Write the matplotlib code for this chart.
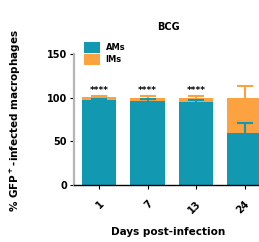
import matplotlib
matplotlib.use("Agg")
import matplotlib.pyplot as plt
import numpy as np

days = ["1", "7", "13", "24"]
am_mean = [97.5, 96.5, 95.5, 59.5]
im_mean = [3.0, 3.5, 4.5, 40.5]
am_sd = [1.5, 1.5, 2.0, 12.0]
im_sd = [1.2, 1.5, 2.0, 13.0]
sig = ["****", "****", "****", ""]

teal = "#1398b2"
orange = "#fca240"

plt.rcParams['font.family'] = ['DejaVu Sans']
plt.rcParams['font.weight'] = 'bold'

fig = plt.figure(figsize=(2.59, 2.42), dpi=100)
ax = fig.add_axes([74/259, 57/242, 189/259, 131/242])

x = np.arange(len(days))
w = 0.71
am_top = np.array(am_mean)
tot = am_top + np.array(im_mean)
ax.bar(x, am_mean, width=w, color=teal, label="AMs", zorder=2)
ax.bar(x, im_mean, width=w, bottom=am_mean, color=orange, label="IMs", zorder=2)
for ys, sd, col, zo in [(am_top, am_sd, teal, 3), (tot, im_sd, orange, 1.5)]:
    eb = ax.errorbar(x, ys, yerr=[np.zeros(len(x)), sd], fmt='none', ecolor=col,
                     elinewidth=1.5, capsize=5.5, capthick=1.5, zorder=zo)
    caps = eb[1]
    if len(caps) >= 2:
        caps[0].set_visible(False)

for xi, s in zip(x, sig):
    if s:
        ax.text(xi, 108, s, ha='center', va='center', fontsize=6.5, fontweight='bold')

ax.set_xlim(-0.52, 3.38)
ax.set_ylim(0, 150)
ax.set_yticks([0, 50, 100, 150])
ax.set_yticklabels(["0", "50", "100", "150"], fontsize=7, fontweight='bold')
ax.set_xticks(x)
ax.set_xticklabels(days, rotation=45, ha='right', rotation_mode='anchor',
                   fontsize=7, fontweight='bold')
ax.tick_params(axis='x', length=3, width=0.8, pad=7)
ax.tick_params(axis='y', length=3, width=0.8, pad=2)

for s in ['top', 'right']:
    ax.spines[s].set_visible(False)
ax.spines['left'].set_color('#b5b5b5')
ax.spines['left'].set_linewidth(1.6)
ax.spines['bottom'].set_linewidth(1.0)

ax.set_title("BCG", fontsize=7, fontweight='bold', pad=17)
ax.set_xlabel("Days post-infection", fontsize=7.5, fontweight='bold')
ax.xaxis.set_label_coords(0.5, -0.32)
ax.set_ylabel("% GFP$^+$-infected macrophages", fontsize=7.5, fontweight='bold')
ax.yaxis.set_label_coords(-0.27, 0.49)

ax.legend(loc='upper left', bbox_to_anchor=(0.053, 1.09), frameon=False,
          fontsize=6, handlelength=1.9, handleheight=1.6, handletextpad=0.7,
          labelspacing=0.15, borderpad=0, borderaxespad=0)

fig.savefig("out.png", dpi=100)
